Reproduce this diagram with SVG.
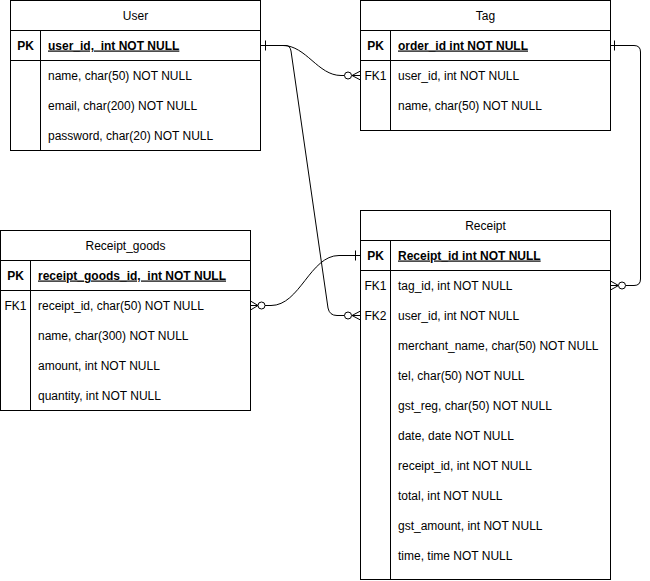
<svg xmlns="http://www.w3.org/2000/svg" width="650" height="581" viewBox="0 0 650 581">
  <style>
    .box { fill: #ffffff; stroke: #000000; stroke-width: 1; }
    .rule { stroke: #000000; stroke-width: 1; fill: none; }
    text { font-family: "Liberation Sans", Arial, Helvetica, sans-serif; font-size: 12px; fill: #000000; }
    .title { text-anchor: middle; }
    .key { font-weight: bold; text-anchor: middle; }
    .pk { font-weight: bold; text-decoration: underline; }
    .edge { fill: none; stroke: #000000; stroke-width: 1; }
    .ring { fill: #ffffff; stroke: #000000; stroke-width: 1; }
  </style>

  <rect width="650" height="581" fill="#ffffff"/>

  <!-- Entity: User -->
  <g id="user">
    <rect class="box" x="10.5" y="0.5" width="250" height="150"/>
    <line class="rule" x1="10.5" y1="30.5" x2="260.5" y2="30.5"/>
    <line class="rule" x1="10.5" y1="60.5" x2="260.5" y2="60.5"/>
    <line class="rule" x1="40.5" y1="30.5" x2="40.5" y2="150.5"/>
    <text class="title" x="135.5" y="20">User</text>
    <text class="key" x="25.5" y="49.5">PK</text>
    <text class="pk" x="48" y="49.5" xml:space="preserve">user_id,  int NOT NULL</text>
    <text x="48" y="79.5">name, char(50) NOT NULL</text>
    <text x="48" y="109.5">email, char(200) NOT NULL</text>
    <text x="48" y="139.5">password, char(20) NOT NULL</text>
  </g>

  <!-- Entity: Tag -->
  <g id="tag">
    <rect class="box" x="360.5" y="0.5" width="250" height="130"/>
    <line class="rule" x1="360.5" y1="30.5" x2="610.5" y2="30.5"/>
    <line class="rule" x1="360.5" y1="60.5" x2="610.5" y2="60.5"/>
    <line class="rule" x1="390.5" y1="30.5" x2="390.5" y2="130.5"/>
    <text class="title" x="485.5" y="20">Tag</text>
    <text class="key" x="375.5" y="49.5">PK</text>
    <text class="pk" x="398" y="49.5">order_id int NOT NULL</text>
    <text x="375.5" y="79.5" text-anchor="middle">FK1</text>
    <text x="398" y="79.5">user_id, int NOT NULL</text>
    <text x="398" y="109.5">name, char(50) NOT NULL</text>
  </g>

  <!-- Entity: Receipt_goods -->
  <g id="receipt_goods">
    <rect class="box" x="0.5" y="230.5" width="250" height="180"/>
    <line class="rule" x1="0.5" y1="260.5" x2="250.5" y2="260.5"/>
    <line class="rule" x1="0.5" y1="290.5" x2="250.5" y2="290.5"/>
    <line class="rule" x1="30.5" y1="260.5" x2="30.5" y2="410.5"/>
    <text class="title" x="125.5" y="250">Receipt_goods</text>
    <text class="key" x="15.5" y="279.5">PK</text>
    <text class="pk" x="38" y="279.5" xml:space="preserve">receipt_goods_id,  int NOT NULL</text>
    <text x="15.5" y="309.5" text-anchor="middle">FK1</text>
    <text x="38" y="309.5">receipt_id, char(50) NOT NULL</text>
    <text x="38" y="339.5">name, char(300) NOT NULL</text>
    <text x="38" y="369.5">amount, int NOT NULL</text>
    <text x="38" y="399.5">quantity, int NOT NULL</text>
  </g>

  <!-- Entity: Receipt -->
  <g id="receipt">
    <rect class="box" x="360.5" y="210.5" width="250" height="369"/>
    <line class="rule" x1="360.5" y1="240.5" x2="610.5" y2="240.5"/>
    <line class="rule" x1="360.5" y1="270.5" x2="610.5" y2="270.5"/>
    <line class="rule" x1="390.5" y1="240.5" x2="390.5" y2="579.5"/>
    <text class="title" x="485.5" y="230">Receipt</text>
    <text class="key" x="375.5" y="259.5">PK</text>
    <text class="pk" x="398" y="259.5">Receipt_id int NOT NULL</text>
    <text x="375.5" y="289.5" text-anchor="middle">FK1</text>
    <text x="398" y="289.5">tag_id, int NOT NULL</text>
    <text x="375.5" y="319.5" text-anchor="middle">FK2</text>
    <text x="398" y="319.5">user_id, int NOT NULL</text>
    <text x="398" y="349.5">merchant_name, char(50) NOT NULL</text>
    <text x="398" y="379.5">tel, char(50) NOT NULL</text>
    <text x="398" y="409.5">gst_reg, char(50) NOT NULL</text>
    <text x="398" y="439.5">date, date NOT NULL</text>
    <text x="398" y="469.5">receipt_id, int NOT NULL</text>
    <text x="398" y="499.5">total, int NOT NULL</text>
    <text x="398" y="529.5">gst_amount, int NOT NULL</text>
    <text x="398" y="559.5">time, time NOT NULL</text>
  </g>

  <!-- Relationships -->
  <g id="connectors">
    <!-- User.user_id -> Tag.user_id -->
    <g id="user-tag">
      <path class="edge" d="M260.5,45.5 L283,45.5 C306,45.5 318,75.5 341,75.5 L344.5,75.5"/>
      <line class="edge" x1="265.5" y1="40.5" x2="265.5" y2="50.5"/>
      <line class="edge" x1="352" y1="75.5" x2="360.5" y2="75.5"/>
      <path class="edge" d="M360.5,71 L352,75.5 L360.5,80"/>
      <circle class="ring" cx="348" cy="75.5" r="3.5"/>
    </g>
    <!-- User.user_id -> Receipt.user_id -->
    <g id="user-receipt">
      <path class="edge" d="M283,45.5 L286,45.5 Q290,45.5 291,51 L328,308 Q329.5,315.5 337,315.5 L344.5,315.5"/>
      <line class="edge" x1="352" y1="315.5" x2="360.5" y2="315.5"/>
      <path class="edge" d="M360.5,311 L352,315.5 L360.5,320"/>
      <circle class="ring" cx="348" cy="315.5" r="3.5"/>
    </g>
    <!-- Receipt.Receipt_id -> Receipt_goods.receipt_id -->
    <g id="receipt-goods">
      <path class="edge" d="M360.5,255.5 L339,255.5 C310,255.5 300,305.5 271,305.5 L265,305.5"/>
      <line class="edge" x1="355.5" y1="250.5" x2="355.5" y2="260.5"/>
      <line class="edge" x1="250.5" y1="305.5" x2="258" y2="305.5"/>
      <path class="edge" d="M250.5,301 L258,305.5 L250.5,310"/>
      <circle class="ring" cx="261.5" cy="305.5" r="3.5"/>
    </g>
    <!-- Tag.order_id -> Receipt.tag_id -->
    <g id="tag-receipt">
      <path class="edge" d="M610.5,45.5 L634,45.5 Q640.5,45.5 640.5,52 L640.5,279 Q640.5,285.5 634,285.5 L625.5,285.5"/>
      <line class="edge" x1="614.5" y1="40.5" x2="614.5" y2="50.5"/>
      <line class="edge" x1="610.5" y1="285.5" x2="618.5" y2="285.5"/>
      <path class="edge" d="M610.5,281 L618.5,285.5 L610.5,290"/>
      <circle class="ring" cx="622" cy="285.5" r="3.5"/>
    </g>
  </g>
</svg>
